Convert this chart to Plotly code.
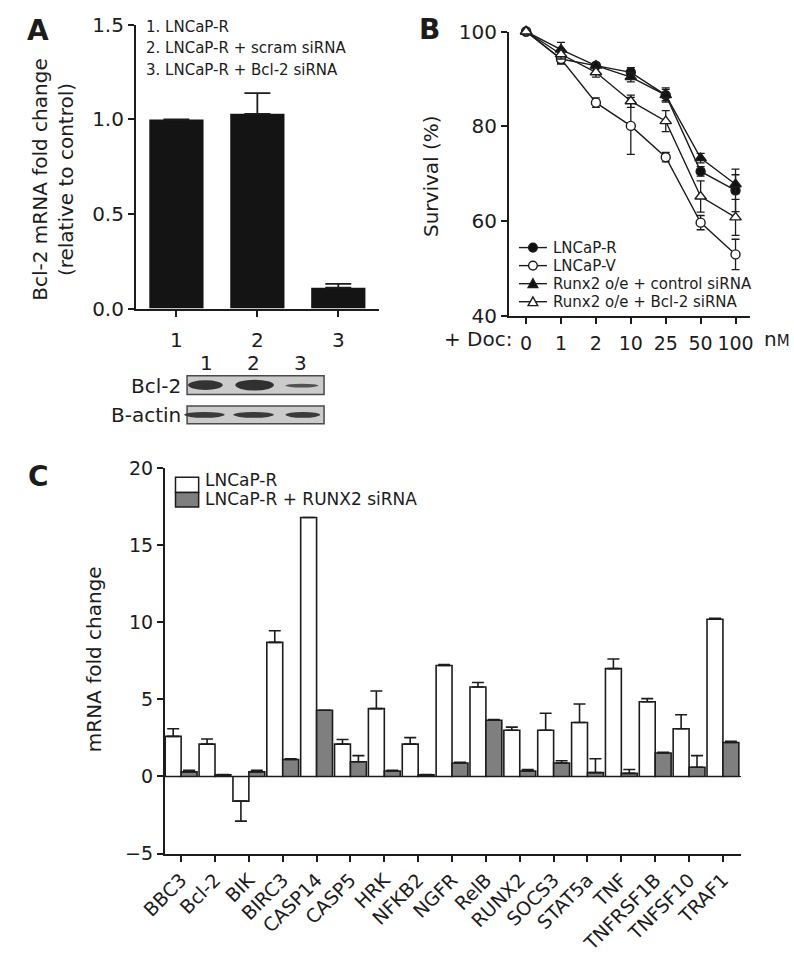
import plotly.graph_objects as go

# ---------------- data ----------------
# Panel A
a_labels = ["1", "2", "3"]
a_values = [1.00, 1.03, 0.11]
a_errors = [0.0, 0.11, 0.02]
a_key = ["1. LNCaP-R", "2. LNCaP-R + scram siRNA", "3. LNCaP-R + Bcl-2 siRNA"]
blot_rows = ["Bcl-2", "B-actin"]

# Panel B
b_doses = ["0", "1", "2", "10", "25", "50", "100"]
b_names = ["LNCaP-R", "LNCaP-V", "Runx2 o/e + control siRNA", "Runx2 o/e + Bcl-2 siRNA"]
b_lncap_r = [100, 94.2, 92.8, 91.4, 86.6, 70.5, 66.5]
b_lncap_r_err = [0, 1.0, 0.5, 1.0, 1.2, 1.0, 4.5]
b_lncap_v = [100, 94.2, 85.0, 80.1, 73.5, 59.7, 53.0]
b_lncap_v_err = [0, 1.0, 1.0, 6.0, 1.0, 1.5, 3.2]
b_ctrl = [100, 96.2, 92.8, 90.4, 86.6, 73.3, 67.8]
b_ctrl_err = [0, 1.5, 0.5, 1.0, 1.5, 1.0, 2.0]
b_bcl2 = [100, 95.2, 91.4, 85.3, 81.1, 65.2, 60.8]
b_bcl2_err = [0, 1.0, 1.0, 1.3, 2.2, 3.3, 3.8]
b_star_doses = ["10", "25", "50"]

# Panel C
c_genes = ["BBC3", "Bcl-2", "BIK", "BIRC3", "CASP14", "CASP5", "HRK", "NFKB2", "NGFR",
           "RelB", "RUNX2", "SOCS3", "STAT5a", "TNF", "TNFRSF1B", "TNFSF10", "TRAF1"]
c_names = ["LNCaP-R", "LNCaP-R + RUNX2 siRNA"]
c_ctrl = [2.6, 2.1, -1.6, 8.7, 16.8, 2.1, 4.4, 2.1, 7.2, 5.8, 3.0, 3.0, 3.5, 7.0, 4.85, 3.1, 10.2]
c_ctrl_err = [0.5, 0.33, 1.3, 0.75, 0.0, 0.3, 1.15, 0.42, 0.06, 0.3, 0.2, 1.1, 1.2, 0.62, 0.2, 0.9, 0.06]
c_sirna = [0.3, 0.1, 0.3, 1.1, 4.3, 0.95, 0.35, 0.1, 0.87, 3.65, 0.35, 0.87, 0.25, 0.2, 1.52, 0.6, 2.2]
c_sirna_err = [0.1, 0.03, 0.1, 0.05, 0.0, 0.4, 0.05, 0.03, 0.05, 0.05, 0.1, 0.15, 0.9, 0.25, 0.05, 0.75, 0.08]

# ---------------- styling helpers ----------------
W, H = 794, 978
FONT = "DejaVu Sans, Liberation Sans, Arial"
INK = "#1c1c1c"


def fx(x):
    return x / W


def fy(y):
    return 1 - y / H


def nz(errs):
    """Hide error bars whose size is zero."""
    return [e if e else None for e in errs]


fig = go.Figure()

# ---------------- Panel A ----------------
fig.add_trace(go.Bar(
    x=a_labels, y=a_values, width=0.67,
    marker=dict(color="#141414", line=dict(width=0)),
    error_y=dict(type="data", array=nz(a_errors), arrayminus=[None] * len(a_errors), symmetric=False,
                 color=INK, thickness=1.8, width=13),
    xaxis="x", yaxis="y", showlegend=False, hoverinfo="skip"))

# ---------------- Panel B ----------------
b_vals = [b_lncap_r, b_lncap_v, b_ctrl, b_bcl2]
b_errs = [b_lncap_r_err, b_lncap_v_err, b_ctrl_err, b_bcl2_err]
b_symbols = ["circle", "circle", "triangle-up", "triangle-up"]
b_fills = ["#111111", "white", "#111111", "white"]
for name, vals, errs, sym, fill in zip(b_names, b_vals, b_errs, b_symbols, b_fills):
    fig.add_trace(go.Scatter(
        x=b_doses, y=vals, name=name, mode="lines+markers",
        line=dict(color=INK, width=1.4),
        marker=dict(symbol=sym, size=9 if sym == "circle" else 10, color=fill,
                    line=dict(color=INK, width=1.4)),
        error_y=dict(type="data", array=nz(errs), color=INK, thickness=1.3, width=4),
        xaxis="x2", yaxis="y2", showlegend=False, cliponaxis=False, hoverinfo="skip"))

# ---------------- Panel C ----------------
c_vals = [c_ctrl, c_sirna]
c_errs = [c_ctrl_err, c_sirna_err]
c_colors = ["white", "#7f7f7f"]
for name, vals, errs, col in zip(c_names, c_vals, c_errs, c_colors):
    plus = [e if (v >= 0 and e) else None for v, e in zip(vals, errs)]
    minus = [e if (v < 0 and e) else None for v, e in zip(vals, errs)]
    fig.add_trace(go.Bar(
        x=c_genes, y=vals, name=name,
        marker=dict(color=col, line=dict(color=INK, width=1.6)),
        error_y=dict(type="data", array=plus, arrayminus=minus, symmetric=False,
                     color=INK, thickness=1.6, width=6),
        xaxis="x3", yaxis="y3", showlegend=False, hoverinfo="skip"))

# ---------------- axes ----------------
def ax(size, **kw):
    d = dict(showline=True, linecolor=INK, linewidth=2, ticks="outside", ticklen=6,
             tickwidth=2, tickcolor=INK, showgrid=False, zeroline=False,
             tickfont=dict(family=FONT, size=size, color=INK), fixedrange=True)
    d.update(kw)
    return d


layout_axes = dict(
    xaxis=ax(20, domain=[fx(115), fx(366.7)], range=[-0.5, 2.5], anchor="y",
             type="category", ticklabelstandoff=6),
    yaxis=ax(20, domain=[fy(304), fy(13.3)], range=[0, 1.5], anchor="x",
             tickvals=[0, 0.5, 1.0, 1.5], tickformat=".1f"),
    xaxis2=ax(19, domain=[fx(501.7), fx(751.7)], range=[-0.49, 6.42], anchor="y2",
              type="category", ticklabelstandoff=3),
    yaxis2=ax(20, domain=[fy(311.7), fy(20)], range=[40, 100], anchor="x2",
              tickvals=[40, 60, 80, 100]),
    xaxis3=ax(19, domain=[fx(145), fx(741.7)], range=[-0.48, 16.52], anchor="y3",
              type="category", tickangle=-45),
    yaxis3=ax(19, domain=[fy(862.7), fy(467.7)], range=[-5, 20], anchor="x3",
              tickvals=[-5, 0, 5, 10, 15, 20], zeroline=True, zerolinecolor=INK,
              zerolinewidth=1.6),
)

# ---------------- annotations ----------------
ann = []


def txt(x, y, text, size, xanchor="center", angle=0, bold=False, xref="paper", yref="paper"):
    ann.append(dict(x=x, y=y, xref=xref, yref=yref, text=("<b>%s</b>" % text) if bold else text,
                    showarrow=False, xanchor=xanchor, yanchor="middle", textangle=angle,
                    font=dict(family=FONT, size=size, color=INK)))


# panel letters
txt(fx(13), fy(19), "A", 28, bold=True)
txt(fx(419), fy(18), "B", 28, bold=True)
txt(fx(14), fy(476), "C", 28, bold=True)

# panel A titles & key
txt(fx(29), fy(172), "Bcl-2 mRNA fold change<br>(relative to control)", 20, angle=-90)
for i, line in enumerate(a_key):
    txt(fx(123), fy(15 + 22 * i), line, 15, xanchor="left")

# western blot labels
for i, lab in enumerate(a_labels):
    txt(fx(188 + 49 * i), fy(360), lab, 20)
for i, lab in enumerate(blot_rows):
    txt(fx(164), fy(383 + 30 * i), lab, 20, xanchor="right")

# panel B titles
txt(fx(421), fy(168), "Survival (%)", 20, angle=-90)
txt(fx(508), fy(335), "+ Doc:", 20, xanchor="right")
txt(fx(764), fy(335), "n<span style='font-size:15px'>M</span>", 20, xanchor="left")
star_idx = [b_doses.index(d) for d in b_star_doses]
for d, i in zip(b_star_doses, star_idx):
    top = max(v[i] + e[i] for v, e in zip(b_vals, b_errs))
    txt(d, top + 2.5, "*", 18, xref="x2", yref="y2")

# panel B key
for i, name in enumerate(b_names):
    txt(fx(545), fy(241.5 + 18.5 * i), name, 15, xanchor="left")

# panel C titles & key
txt(fx(71), fy(663), "mRNA fold change", 20, angle=-90)
for i, name in enumerate(c_names):
    txt(fx(185), fy(480 + 19.5 * i), name, 17, xanchor="left")

# ---------------- shapes (blot, keys) ----------------
shapes = []


def rect(x0, y0, x1, y1, fill, line=INK, lw=1.5):
    shapes.append(dict(type="rect", xref="paper", yref="paper", x0=fx(x0), x1=fx(x1),
                       y0=fy(y1), y1=fy(y0), fillcolor=fill, line=dict(color=line, width=lw)))


def ellipse(cx, cy, w, h, fill, opacity=1.0):
    shapes.append(dict(type="circle", xref="paper", yref="paper", x0=fx(cx - w / 2), x1=fx(cx + w / 2),
                       y0=fy(cy + h / 2), y1=fy(cy - h / 2), fillcolor=fill, opacity=opacity,
                       line=dict(width=0)))


# blot
rect(168, 373, 310, 392, "#cbcbcb", line="#4a4a4a")
ellipse(187, 382.5, 36, 10, "#333333")
ellipse(238, 382.5, 40, 11, "#303030")
ellipse(287, 383, 34, 4, "#3c3c3c", 0.85)
rect(168, 404, 310, 422, "#cbcbcb", line="#4a4a4a")
ellipse(186, 413, 42, 6, "#3a3a3a")
ellipse(237, 413, 42, 6, "#3a3a3a")
ellipse(288, 413, 36, 6, "#3a3a3a")

# panel B key samples
for i, (sym, fill) in enumerate(zip(b_symbols, b_fills)):
    yc = 241.5 + 18.5 * i
    shapes.append(dict(type="line", xref="paper", yref="paper", x0=fx(512), x1=fx(541),
                       y0=fy(yc), y1=fy(yc), line=dict(color=INK, width=1.4)))
    if sym == "circle":
        shapes.append(dict(type="circle", xref="paper", yref="paper", x0=fx(522), x1=fx(531),
                           y0=fy(yc + 4.5), y1=fy(yc - 4.5), fillcolor=fill,
                           line=dict(color=INK, width=1.4)))
    else:
        path = "M %f,%f L %f,%f L %f,%f Z" % (fx(526.5), fy(yc - 5), fx(521.5), fy(yc + 4),
                                              fx(531.5), fy(yc + 4))
        shapes.append(dict(type="path", xref="paper", yref="paper", path=path, fillcolor=fill,
                           line=dict(color=INK, width=1.4)))

# panel C key boxes
rect(156, 477, 180, 492.5, "white")
rect(156, 492.5, 180, 507.5, "#7f7f7f")

fig.update_layout(
    width=W, height=H, autosize=False,
    margin=dict(l=0, r=0, t=0, b=0),
    paper_bgcolor="white", plot_bgcolor="white",
    barmode="group", bargap=0.06, bargroupgap=0,
    font=dict(family=FONT, color=INK),
    annotations=ann, shapes=shapes, showlegend=False,
    **layout_axes)

fig.write_html("out.html", config={"displayModeBar": False, "staticPlot": True},
               post_script="document.body.style.margin='0';")
